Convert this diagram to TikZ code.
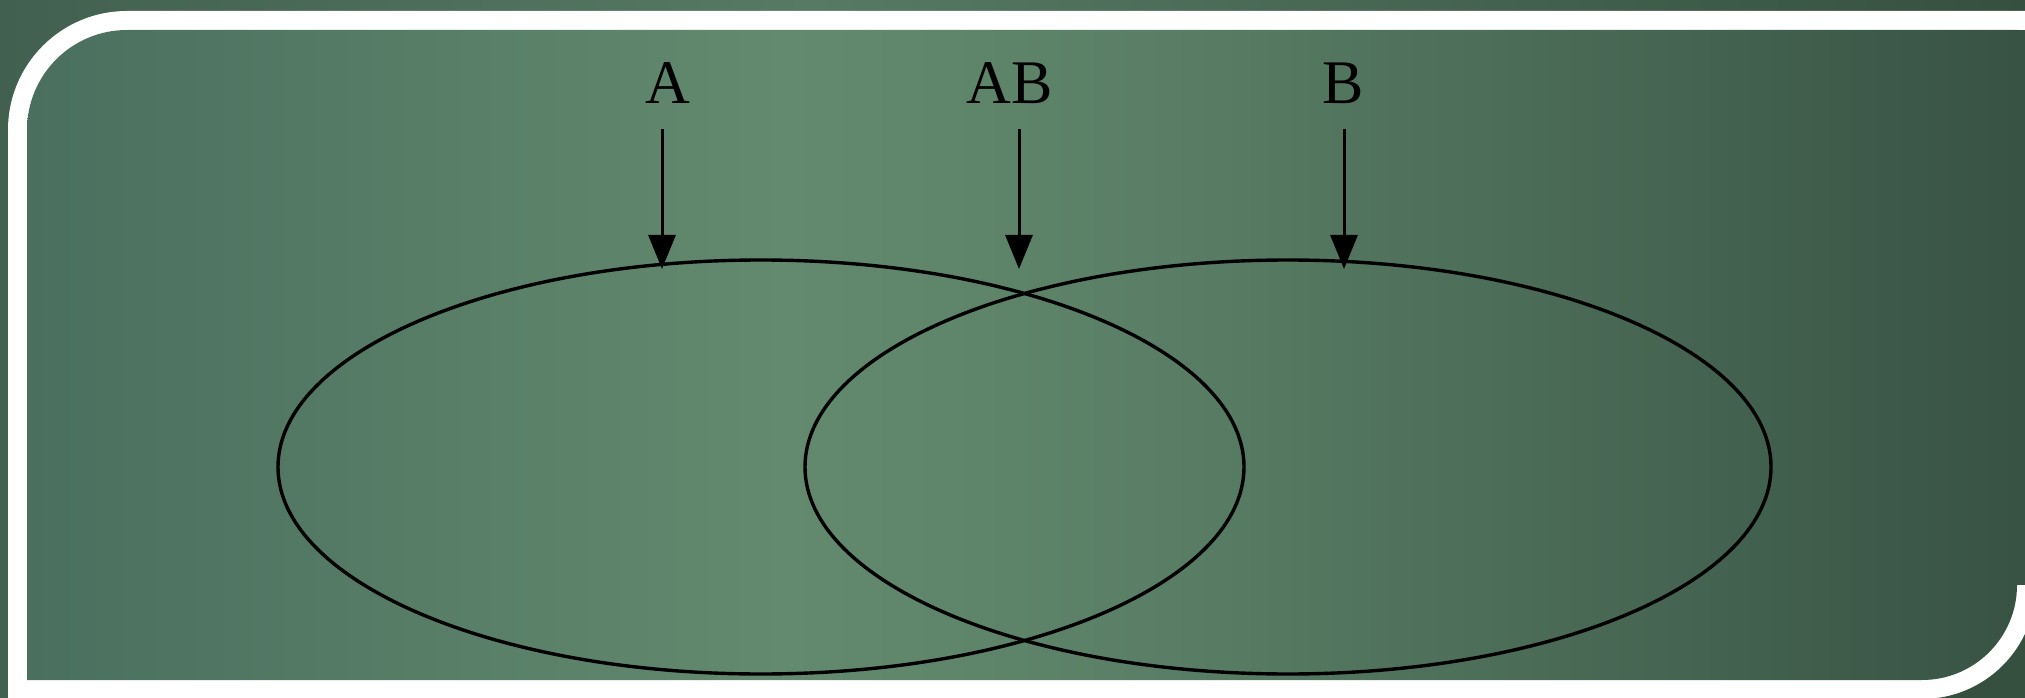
\documentclass[tikz,border=0pt]{standalone}
\usepackage{fontspec}
\setmainfont{Liberation Serif}
\usetikzlibrary{arrows.meta,shapes.geometric}
\definecolor{bgA}{HTML}{42604F}
\definecolor{bgB}{HTML}{567A64}
\definecolor{bgC}{HTML}{36503F}
\definecolor{pA}{HTML}{4A6F5F}
\definecolor{pB}{HTML}{638A6E}
\definecolor{pC}{HTML}{5A7F66}
\definecolor{pD}{HTML}{385344}
\pgfdeclarehorizontalshading{bgsh}{100bp}{color(0bp)=(bgA); color(25bp)=(bgA); color(45bp)=(bgB); color(75bp)=(bgC); color(100bp)=(bgC)}
\pgfdeclarehorizontalshading{panelsh}{100bp}{color(0bp)=(pA); color(25bp)=(pA); color(44bp)=(pB); color(53bp)=(pC); color(75bp)=(pD); color(100bp)=(pD)}
\tikzset{
  setring/.style={draw=black, line width=3.4pt, shape=ellipse, minimum width=966pt, minimum height=414pt, inner sep=0pt},
  lbl/.style={font=\fontsize{62}{70}\selectfont, text=black, anchor=base, inner sep=0pt},
  arr/.style={draw=black, line width=3pt, -{Triangle[width=27pt,length=34pt]}}
}
\begin{document}
\begin{tikzpicture}[x=1pt,y=1pt]
\useasboundingbox (0,0) rectangle (2025,697);
% background
\shade[shading=bgsh] (0,0) rectangle (2025,697);
% white frame
\fill[white] (8,-20) -- (8,567) arc[start angle=180, end angle=90, radius=119] -- (2045,686) -- (2045,-20) -- cycle;
\fill[bgC] (2036,-20) -- (2036,112) arc[start angle=0, end angle=-90, radius=114] -- (1922,-20) -- cycle;
\fill[bgC] (2036,112) rectangle (2045,667);
\fill[pD] (2017,112) rectangle (2036,667);
% panel
\shade[shading=panelsh] (27,17) -- (27,567) arc[start angle=180, end angle=90, radius=100] -- (2017,667) -- (2017,112) arc[start angle=0, end angle=-90, radius=95] -- cycle;
% sets
\node[setring] (setA) at (761,230) {};
\node[setring] (setB) at (1288,230) {};
% labels
\node[lbl] (lA) at (668,593) {A};
\node[lbl] (lAB) at (1010,593) {AB};
\node[lbl] (lB) at (1343,593) {B};
% arrows
\coordinate (sA) at (662,568);
\coordinate (tA) at (662,428);
\coordinate (sAB) at (1019,568);
\coordinate (tAB) at (1019,428);
\coordinate (sB) at (1344,568);
\coordinate (tB) at (1344,428);
\draw[arr] (sA) -- (tA);
\draw[arr] (sAB) -- (tAB);
\draw[arr] (sB) -- (tB);
\end{tikzpicture}
\end{document}
